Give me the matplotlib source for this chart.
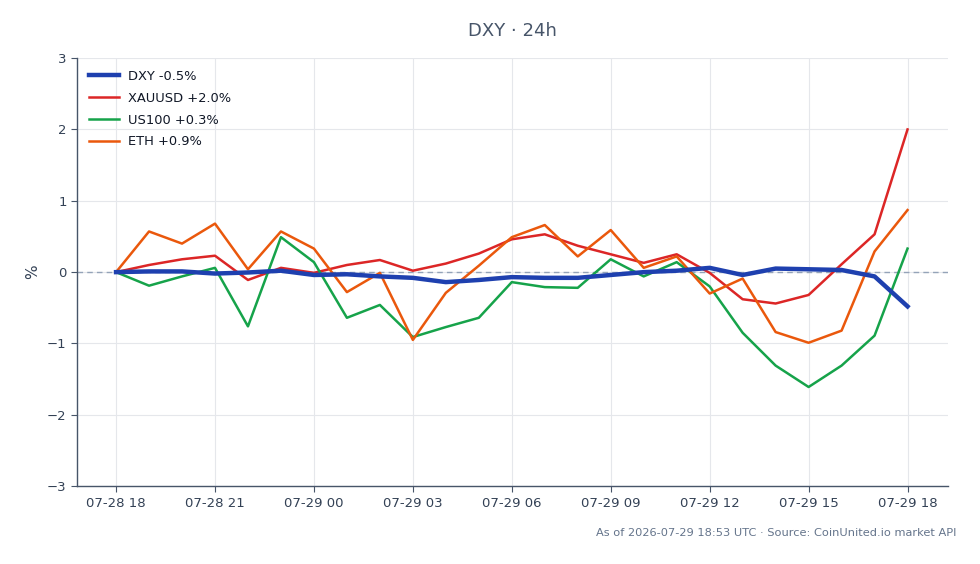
import matplotlib
matplotlib.use("Agg")
import matplotlib.pyplot as plt
import pandas as pd
import matplotlib.dates as mdates

times = pd.date_range("2026-07-28 18:00", "2026-07-29 18:00", freq="h")

dxy = [0.0, 0.01, 0.01, -0.02, -0.005, 0.02, -0.04, -0.03, -0.06, -0.08, -0.14, -0.11,
       -0.07, -0.08, -0.08, -0.04, 0.0, 0.02, 0.06, -0.04, 0.05, 0.04, 0.03, -0.06, -0.48]
xauusd = [0.0, 0.10, 0.18, 0.23, -0.11, 0.06, -0.01, 0.10, 0.17, 0.02, 0.12, 0.26,
          0.46, 0.53, 0.37, 0.25, 0.13, 0.25, -0.01, -0.38, -0.44, -0.32, 0.11, 0.53, 2.0]
us100 = [0.0, -0.19, -0.06, 0.06, -0.76, 0.49, 0.14, -0.64, -0.46, -0.91, -0.77, -0.64,
         -0.14, -0.21, -0.22, 0.18, -0.06, 0.14, -0.20, -0.85, -1.31, -1.61, -1.31, -0.89, 0.33]
eth = [0.0, 0.57, 0.40, 0.68, 0.04, 0.57, 0.33, -0.28, -0.01, -0.95, -0.29, 0.09,
       0.49, 0.66, 0.22, 0.59, 0.06, 0.22, -0.30, -0.09, -0.84, -0.99, -0.82, 0.29, 0.87]

labels = ["DXY -0.5%", "XAUUSD +2.0%", "US100 +0.3%", "ETH +0.9%"]
colors = ["#1e40af", "#dc2626", "#16a34a", "#ea580c"]
widths = [3.2, 1.8, 1.8, 1.8]

title = "DXY · 24h"
footer = "As of 2026-07-29 18:53 UTC · Source: CoinUnited.io market API"
yticks = [-3, -2, -1, 0, 1, 2, 3]

fig = plt.figure(figsize=(9.8, 5.64), dpi=100)
ax = fig.add_axes([0.0786, 0.138, 0.8884, 0.759])

ax.axhline(0, color="#94a3b8", lw=1.0, ls=(0, (4, 3)), zorder=1)
series = [dxy, xauusd, us100, eth]
for vals, lab, c, w in zip(series, labels, colors, widths):
    ax.plot(times, vals, color=c, lw=w, label=lab, zorder=3 if lab.startswith("DXY") else 2)

ax.set_ylim(-3, 3)
ax.set_yticks(yticks)
ax.set_xlim(times[0] - pd.Timedelta(minutes=71), times[-1] + pd.Timedelta(minutes=73))
ax.xaxis.set_major_locator(mdates.HourLocator(byhour=range(0, 24, 3)))
ax.xaxis.set_major_formatter(mdates.DateFormatter("%m-%d %H"))

ax.grid(True, color="#e5e7eb", lw=0.8)
ax.set_axisbelow(True)
for s in ["top", "right"]:
    ax.spines[s].set_visible(False)
for s in ["left", "bottom"]:
    ax.spines[s].set_color("#475569")
    ax.spines[s].set_linewidth(1.0)
ax.tick_params(colors="#475569", labelcolor="#334155", labelsize=9.5, length=4)
ax.set_ylabel("%", color="#334155", fontsize=11, labelpad=5)

ax.set_title(title, color="#475569", fontsize=13, pad=16)
leg = ax.legend(loc="upper left", frameon=False, fontsize=9.4, handlelength=2.3,
                handletextpad=0.7, borderaxespad=0.5, labelspacing=0.68)
for t in leg.get_texts():
    t.set_color("#111827")

fig.text(0.976, 0.055, footer, ha="right", va="center", fontsize=8.2, color="#64748b")

fig.savefig("out.png", dpi=100, facecolor="white")
